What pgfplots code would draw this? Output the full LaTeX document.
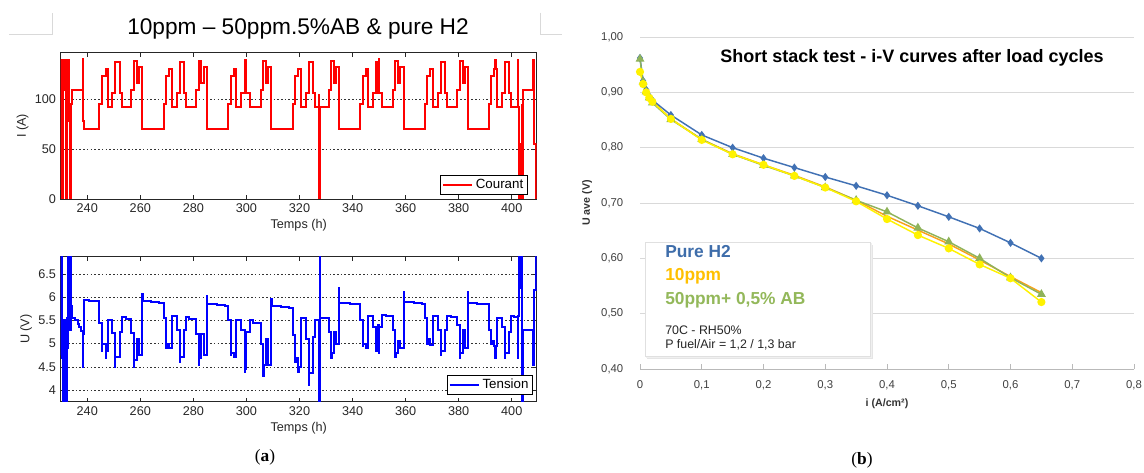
\documentclass[border=0pt]{standalone}
\usepackage{fontspec}
\setmainfont{Liberation Sans}
\newfontfamily\serifA{Liberation Serif}
\usepackage{pgfplots}
\pgfplotsset{compat=1.18}
\definecolor{h2blue}{HTML}{4171B4}
\definecolor{h2txt}{HTML}{3E6DAA}
\definecolor{orL}{HTML}{F7A21B}
\definecolor{orTxt}{HTML}{FFC000}
\definecolor{grL}{HTML}{8FB35A}
\definecolor{grTxt}{HTML}{93B85A}
\definecolor{yeL}{HTML}{FFF200}
\definecolor{mgray}{HTML}{262626}
\definecolor{mred}{HTML}{FF0000}
\definecolor{mblue}{HTML}{0000FF}
\pgfplotsset{
  matlab/.style={
    scale only axis, width=357pt,
    xmin=230, xmax=409.4,
    xtick={240,260,...,400},
    axis line style={mgray, line width=0.6pt},
    tick style={mgray, line width=0.5pt},
    tick align=inside, major tick length=3pt,
    ticklabel style={font=\fontsize{9.5}{11}\selectfont, text=mgray},
    /pgf/number format/assume math mode=true,
    ymajorgrids,
    grid style={dash pattern=on 1.2pt off 1.6pt, black!80, line width=0.5pt},
    label style={font=\fontsize{9.5}{11}\selectfont, text=mgray},
    xlabel={Temps (h)},
    xlabel style={yshift=2pt},
    ylabel style={yshift=-2pt},
    legend cell align=left,
    legend style={draw=black, line width=0.6pt, font=\fontsize{10}{11}\selectfont, inner sep=1pt, fill=white},
    legend image code/.code={\draw[#1, line width=1.2pt] (0pt,0pt) -- (22pt,0pt);},
  }
}
\begin{document}
\begin{tikzpicture}
\useasboundingbox (0,0) rectangle (858pt,-354pt);

% ---------------- current ----------------
\begin{axis}[matlab, at={(45.53pt,-39.53pt)}, anchor=north west, height=109.7pt,
  ymin=0, ymax=147.2, ytick={0,50,100}, ylabel={I (A)},
  legend style={at={(0.981,0.027)}, anchor=south east}]
\addplot[const plot, draw=mred, line width=1.5pt] coordinates {
(230.0,140) (230.2,10) (230.35,140) (230.55,0) (230.7,140) (231.0,110) (231.3,140) (231.6,110) (231.9,140) (232.1,0) (232.3,140) (232.6,110) (232.9,140) (233.1,130) (233.3,78) (233.5,0) (233.75,88) (234.0,96) (234.2,110)
(238.3,141) (238.45,78) (238.7,70)
(244.5,96) (245.6,123.5) (246.9,131) (247.8,93) (249.3,107) (250.5,138) (252.3,107) (253.1,93) (256.6,110) (257.6,139) (258.6,117) (259.4,133) (260.8,70)
(268.8,96) (269.8,123.5) (270.95,131) (271.9,93) (273.7,107) (274.8,138) (276.3,107) (277.1,93) (281.1,110) (282.05,139) (283.05,117) (283.85,133) (285.1,70)
(293.1,96) (294.1,123.5) (295.25,131) (296.2,93) (298.0,107) (299.3,140) (299.5,107) (299.7,140) (299.9,107) (301.4,93) (305.4,110) (306.35,139) (307.35,117) (308.15,133) (309.4,70)
(317.4,96) (318.4,123.5) (319.55,131) (320.5,93) (322.3,107) (323.4,138) (324.9,107) (325.7,93) (327.35,105) (327.45,0) (327.7,93) (331.2,110) (332.0,139) (332.9,117) (333.8,133) (334.8,70)
(342.9,96) (343.9,123.5) (345.05,131) (346.0,93) (347.8,107) (348.9,138) (349.7,107) (349.9,141) (350.1,107) (351.2,93) (355.2,110) (356.15,139) (357.15,117) (357.95,133) (359.2,70)
(367.2,96) (368.2,123.5) (369.35,131) (370.3,93) (372.1,107) (373.2,138) (374.7,107) (375.5,93) (379.5,110) (380.45,139) (381.45,117) (382.25,133) (383.5,70)
(391.3,96) (392.3,123.5) (393.45,131) (393.8,140) (394.0,131) (394.4,93) (396.2,107) (397.3,138) (398.8,107) (399.6,93)
(402.3,140) (402.5,93) (402.9,0) (403.2,55) (403.5,0) (403.8,95) (404.0,0) (404.4,110) (408.0,140) (408.3,55) (408.9,55) (409.1,0) (409.4,0)
};
\legend{Courant}
\end{axis}

% ---------------- voltage ----------------
\begin{axis}[matlab, at={(45.53pt,-192.53pt)}, anchor=north west, height=108.75pt,
  ymin=3.75, ymax=6.87, ytick={4,4.5,5,5.5,6,6.5}, ylabel={U (V)},
  legend style={at={(0.992,0.046)}, anchor=south east}]
\addplot[const plot, draw=mblue, line width=1.5pt] coordinates {
(230.0,4.75) (230.15,7.2) (230.3,4.7) (230.5,5.5) (230.7,3.5) (230.9,5.45) (231.2,5.4) (231.4,3.5) (231.6,5.5) (231.8,5.35) (232.0,3.5) (232.2,5.0) (232.4,5.55) (232.6,4.9) (232.8,7.2) (233.0,5.8) (233.2,7.2) (233.5,5.3) (233.7,7.2) (234.0,5.8) (234.2,5.55)
(235.5,5.5) (236.5,5.42) (237.0,5.35) (237.7,5.28) (238.3,4.5) (238.45,5.2) (238.7,5.93) (240.5,5.92) (242.5,5.91)
(244.5,5.45) (245.6,4.85) (245.75,5.0) (246.9,4.7) (247.05,4.85) (247.8,5.5) (249.3,5.22) (250.5,4.5) (250.65,4.72) (252.3,5.25) (253.1,5.58) (254.5,5.52) (256.6,5.22) (257.6,4.5) (257.75,4.65) (258.6,5.1) (259.4,4.75) (260.8,6.06) (260.95,5.92) (264.0,5.9) (267.0,5.88)
(268.8,5.55) (269.8,4.9) (269.95,5.0) (270.95,4.9) (271.9,5.6) (273.7,5.3) (274.8,4.6) (274.95,4.72) (276.3,5.3) (277.1,5.57) (278.5,5.52) (281.1,5.2) (282.05,4.55) (282.2,4.68) (283.05,5.2) (283.85,4.75) (285.1,6.02) (285.25,5.86) (289.0,5.83) (292.0,5.8)
(293.1,5.5) (294.1,4.75) (294.25,4.8) (295.25,4.72) (296.2,5.5) (298.0,5.3) (299.3,4.4) (299.5,5.2) (299.7,4.45) (299.9,5.25) (301.4,5.5) (302.5,5.45) (305.4,5.0) (306.35,4.3) (306.5,4.55) (307.35,5.1) (308.15,4.55) (309.4,5.97) (309.55,5.8) (313.0,5.78) (316.0,5.77)
(317.4,5.19) (318.4,4.6) (318.55,4.7) (319.55,4.4) (319.7,4.5) (320.5,5.55) (322.3,5.1) (323.4,4.11) (323.55,4.37) (324.9,5.15) (325.7,5.5) (327.35,5.45) (327.45,3.5) (327.55,7.2) (327.7,5.55) (331.2,5.25) (332.0,4.69) (332.15,4.8) (332.9,5.25) (333.8,5.0) (334.8,6.2) (334.95,5.87) (339.0,5.86) (342.0,5.85)
(342.9,5.5) (343.9,4.95) (344.05,5.0) (345.05,4.9) (346.0,5.6) (347.8,5.35) (348.9,4.85) (349.7,5.4) (349.9,4.8) (350.1,5.35) (351.2,5.62) (352.5,5.6) (355.2,5.3) (356.15,4.71) (356.3,4.8) (357.15,5.05) (357.95,4.9) (359.2,6.12) (359.35,5.9) (363.0,5.87) (366.0,5.85)
(367.2,5.55) (368.2,5.0) (368.35,5.1) (369.35,4.98) (370.3,5.6) (372.1,5.3) (373.2,4.75) (373.35,4.85) (374.7,5.3) (375.5,5.6) (377.0,5.58) (379.5,5.4) (380.45,4.7) (380.6,4.8) (381.45,5.3) (382.25,4.9) (383.5,6.12) (383.65,5.88) (387.0,5.86) (390.0,5.85)
(391.3,5.6) (391.6,5.3) (392.3,5.0) (392.45,5.05) (393.45,4.95) (393.8,4.7) (394.0,4.95) (394.4,5.55) (396.2,5.35) (397.3,4.7) (397.45,4.8) (398.8,5.25) (399.6,5.6) (401.0,5.58)
(402.3,4.7) (402.5,5.6) (402.9,7.2) (403.2,6.2) (403.5,7.2) (403.8,5.5) (404.0,3.5) (404.4,5.3) (408.0,4.55) (408.3,6.15) (408.9,6.15) (409.1,7.2) (409.4,7.2)
};
\legend{Tension}
\end{axis}

% ---------------- i-V curves ----------------
\begin{axis}[at={(480pt,-27.75pt)}, anchor=north west, scale only axis,
  width=370.5pt, height=249pt,
  xmin=0, xmax=0.8, ymin=0.4, ymax=1.0,
  axis x line*=bottom, axis y line*=left,
  x axis line style={gray!55, line width=0.6pt},
  y axis line style={draw=none},
  xtick={0,0.1,0.2,0.3,0.4,0.5,0.6,0.7,0.8},
  xticklabels={0,{0,1},{0,2},{0,3},{0,4},{0,5},{0,6},{0,7},{0,8}},
  ytick={0.4,0.5,0.6,0.7,0.8,0.9,1.0},
  yticklabels={{0,40},{0,50},{0,60},{0,70},{0,80},{0,90},{1,00}},
  ymajorgrids, grid style={gray!30, line width=0.6pt},
  xtick style={gray!55, line width=0.6pt}, ytick style={draw=none},
  tick align=inside, major tick length=4pt,
  ticklabel style={font=\fontsize{8.5}{10}\selectfont, text=black!75},
  yticklabel style={xshift=-9pt},
  xticklabel style={yshift=-5pt},
  label style={font=\bfseries\fontsize{8}{9}\selectfont, text=black!80},
  xlabel={i (A/cm²)}, ylabel={U ave (V)},
  clip=false]
\addplot[color=h2blue, line width=1.1pt, mark=diamond*, mark size=2.2pt, mark options={fill=h2blue}] coordinates {
(0,0.962) (0.005,0.921) (0.01,0.905) (0.015,0.893) (0.02,0.886) (0.05,0.859) (0.1,0.823) (0.15,0.800) (0.2,0.781) (0.25,0.764) (0.3,0.747) (0.35,0.731) (0.4,0.714) (0.45,0.695) (0.5,0.675) (0.55,0.654) (0.6,0.628) (0.65,0.600)};
\addplot[color=orL, line width=1.1pt] coordinates {
(0,0.940) (0.005,0.918) (0.01,0.902) (0.015,0.891) (0.02,0.884) (0.05,0.852) (0.1,0.815) (0.15,0.789) (0.2,0.769) (0.25,0.750) (0.3,0.729) (0.35,0.705) (0.4,0.676) (0.45,0.651) (0.5,0.626) (0.55,0.597) (0.6,0.567) (0.65,0.538)};
\addplot[color=grL, line width=1.1pt, mark=triangle*, mark size=2.8pt, mark options={fill=grL}] coordinates {
(0,0.960) (0.005,0.919) (0.01,0.901) (0.015,0.890) (0.02,0.881) (0.05,0.851) (0.1,0.815) (0.15,0.788) (0.2,0.768) (0.25,0.749) (0.3,0.728) (0.35,0.705) (0.4,0.684) (0.45,0.655) (0.5,0.630) (0.55,0.600) (0.6,0.565) (0.65,0.535)};
\addplot[color=yeL, line width=1.1pt, mark=*, mark size=2.5pt, mark options={fill=yeL}] coordinates {
(0,0.937) (0.005,0.915) (0.01,0.900) (0.015,0.890) (0.02,0.883) (0.05,0.852) (0.1,0.814) (0.15,0.788) (0.2,0.769) (0.25,0.749) (0.3,0.728) (0.35,0.703) (0.4,0.671) (0.45,0.642) (0.5,0.618) (0.55,0.589) (0.6,0.564) (0.65,0.521)};
\end{axis}

% ---------------- decorations and texts ----------------
\begin{scope}[x=0.75pt, y=-0.75pt]
\draw[gray!30, line width=0.5pt] (9,34.3) -- (52,34.3) -- (52,12.7);
\draw[gray!30, line width=0.5pt] (540,12.7) -- (540,34.3) -- (562,34.3);
\node[font=\fontsize{17}{20}\selectfont] at (298,29) {10ppm – 50ppm.5\%AB \& pure H2};
\node[font=\serifA\fontsize{13}{15}\selectfont] at (265,457) {(\textbf{a})};
\node[font=\serifA\fontsize{13}{15}\selectfont] at (862,460) {(\textbf{b})};
\node[font=\bfseries\fontsize{13.5}{16}\selectfont] at (912,58) {Short stack test - i-V curves after load cycles};
% legend box
\fill[black!10] (647,245) rectangle (873,359);
\fill[black!6] (646,243) rectangle (872,358);
\draw[fill=white, draw=black!12, line width=0.4pt] (645,242) rectangle (870,356);
\node[anchor=west, font=\bfseries\fontsize{13}{15}\selectfont, text=h2txt, inner sep=0pt] at (665,252) {Pure H2};
\node[anchor=west, font=\bfseries\fontsize{13}{15}\selectfont, text=orTxt, inner sep=0pt] at (665,276) {10ppm};
\node[anchor=west, font=\bfseries\fontsize{13}{15}\selectfont, text=grTxt, inner sep=0pt] at (665,300) {50ppm+ 0,5\% AB};
\node[anchor=west, font=\fontsize{9.3}{11}\selectfont, text=black!85, inner sep=0pt] at (665,330) {70C - RH50\%};
\node[anchor=west, font=\fontsize{9.3}{11}\selectfont, text=black!85, inner sep=0pt] at (665,345) {P fuel/Air = 1,2 / 1,3 bar};
\end{scope}
\end{tikzpicture}
\end{document}
